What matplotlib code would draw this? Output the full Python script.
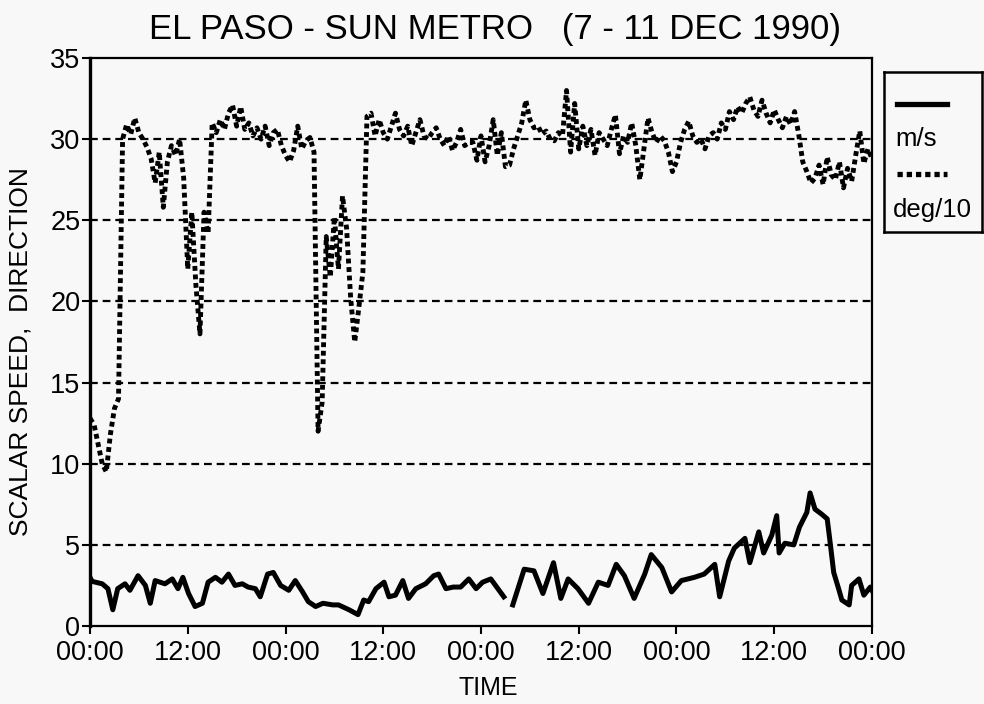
import numpy as np
import matplotlib
matplotlib.use("Agg")
import matplotlib.pyplot as plt

# wind direction (deg/10), half-hourly from 00:00 7 Dec
direction = [
    12.8, 12.4, 11.2, 10.0, 9.5, 11.8, 13.4, 14.0, 30.0, 30.9,
    30.3, 31.3, 30.4, 30.0, 29.5, 28.8, 27.3, 29.2, 25.8, 28.6,
    29.6, 29.0, 30.0, 27.6, 22.0, 25.5, 21.0, 18.0, 25.5, 24.2,
    31.0, 30.4, 31.2, 30.6, 31.6, 32.1, 30.8, 32.0, 30.6, 31.0,
    30.2, 30.7, 30.0, 30.8, 29.6, 30.4, 30.6, 29.6, 29.0, 28.6,
    29.3, 30.8, 29.4, 29.9, 30.1, 29.2, 12.0, 13.8, 24.0, 21.5,
    25.2, 22.0, 26.5, 24.5, 20.2, 17.5, 19.6, 21.8, 31.4, 31.6,
    30.2, 31.2, 30.4, 30.0, 30.8, 31.6, 30.6, 30.2, 30.8, 29.6,
    30.4, 31.2, 30.2, 30.0, 30.4, 30.7, 30.0, 29.6, 30.2, 29.3,
    29.8, 30.6, 29.6, 29.8, 29.8, 28.7, 30.2, 28.6, 29.6, 31.2,
    29.0, 30.4, 28.3, 28.4, 29.4, 30.2, 31.0, 32.4, 31.2, 30.7,
    30.8, 30.3, 30.5, 30.0, 29.9, 30.4, 30.2, 33.0, 29.2, 32.2,
    29.4, 30.8, 29.6, 30.6, 29.0, 30.4, 30.0, 29.6, 30.6, 31.5,
    29.1, 30.2, 29.8, 31.0, 29.6, 27.5, 29.4, 31.3, 30.4, 29.8,
    30.2, 29.9, 29.2, 28.0, 28.6, 29.8, 30.6, 31.1, 30.2, 29.8,
    30.0, 29.4, 30.2, 30.4, 30.0, 31.0, 30.6, 31.7, 31.2, 32.0,
    31.6, 32.2, 32.6, 31.8, 31.4, 32.4, 31.6, 31.0, 31.8, 31.2,
    30.7, 31.4, 30.9, 31.7, 30.3, 28.6, 28.0, 27.3, 27.6, 28.4,
    27.2, 28.9, 27.8, 27.5, 28.6, 27.0, 28.2, 27.4, 29.0, 30.5,
    28.5, 29.4, 28.8,
]
dir_hours = np.arange(len(direction)) * 0.5

# scalar wind speed (m/s); nan marks the gap in the record
speed_hours = [
    0.0, 0.25, 1.5, 2.2, 2.8, 3.4, 4.3, 4.9, 5.9, 6.8, 7.4, 8.0, 9.2, 10.1, 10.8, 11.4, 12.1, 12.9, 13.8, 14.5,
    15.4, 16.2, 17.0, 17.8, 18.7, 19.4, 20.3, 20.9, 21.8, 22.5, 23.4, 24.4, 25.2, 26.1, 26.8, 27.7, 28.6, 29.8, 30.5, 31.8,
    32.9, 33.6, 34.2, 35.1, 36.1, 36.7, 37.5, 38.4, 39.1, 40.0, 41.2, 42.2, 42.8, 43.7, 44.6, 45.5, 46.5, 47.4, 48.2, 49.2,
    50.8, 51.4, 51.9, 53.3, 54.5, 55.6, 56.9, 57.8, 58.7, 59.9, 61.2, 62.4, 63.6, 64.6, 65.6, 66.8, 68.1, 68.9, 70.2, 71.4,
    72.6, 74.2, 75.4, 76.7, 77.3, 78.4, 79.1, 80.4, 81.0, 82.1, 82.7, 83.7, 84.3, 84.6, 85.3, 86.4, 87.1, 88.0, 88.4, 89.0,
    89.8, 90.5, 90.8, 91.3, 91.9, 92.3, 93.2, 93.5, 94.4, 95.0, 95.8, 96.0,
]
speed = [
    3.0, 2.75, 2.6, 2.3, 1.0, 2.3, 2.6, 2.2, 3.1, 2.5, 1.4, 2.8, 2.6, 2.9, 2.3, 3.0, 2.0, 1.2, 1.4, 2.7,
    3.0, 2.7, 3.2, 2.5, 2.6, 2.4, 2.3, 1.8, 3.2, 3.3, 2.5, 2.2, 2.8, 2.1, 1.5, 1.2, 1.4, 1.3, 1.3, 1.0,
    0.7, 1.6, 1.5, 2.3, 2.7, 1.8, 1.9, 2.8, 1.7, 2.3, 2.6, 3.1, 3.2, 2.3, 2.4, 2.4, 2.9, 2.3, 2.7, 2.9,
    1.8, np.nan, 1.3, 3.5, 3.4, 2.0, 3.9, 1.7, 2.9, 2.3, 1.4, 2.7, 2.5, 3.8, 3.1, 1.7, 3.2, 4.4, 3.6, 2.1,
    2.8, 3.0, 3.2, 3.8, 1.8, 4.0, 4.8, 5.4, 3.9, 5.8, 4.5, 5.6, 6.8, 4.5, 5.1, 5.0, 6.1, 7.0, 8.2, 7.2,
    6.9, 6.6, 5.4, 3.3, 2.3, 1.6, 1.3, 2.5, 2.9, 1.9, 2.4, 2.2,
]

tick_hours = [0, 12, 24, 36, 48, 60, 72, 84, 96]
tick_labels = ['00:00', '12:00', '00:00', '12:00', '00:00', '12:00', '00:00', '12:00', '00:00']
grid_levels = [5, 10, 15, 20, 25, 30]

plt.rcParams['font.family'] = ['Liberation Sans', 'DejaVu Sans']
bg = '#f8f8f8'

fig = plt.figure(figsize=(9.84, 7.04), dpi=100, facecolor=bg)
ax = fig.add_axes([90 / 984, 1 - 626 / 704, 782 / 984, 568 / 704], facecolor=bg)

for g in grid_levels:
    ax.axhline(g, color='black', lw=1.6, ls=(0, (3.5, 2.2)), zorder=1)

ax.plot(dir_hours, direction, color='black', lw=3.5, ls=(0, (1, 0.75)), zorder=2)
ax.plot(speed_hours, speed, color='black', lw=3.6, solid_joinstyle='round', zorder=3)

ax.set_xlim(0, 96)
ax.set_ylim(0, 35)
ax.set_xticks(tick_hours)
ax.set_xticklabels(tick_labels)
ax.set_yticks(range(0, 36, 5))
ax.tick_params(axis='both', labelsize=19.5, colors='black', width=1.5)
ax.tick_params(axis='x', length=6, pad=4)
ax.tick_params(axis='y', length=6, pad=1)
for side in ['top', 'right', 'bottom']:
    ax.spines[side].set_linewidth(1.6)
ax.spines['left'].set_linewidth(2.4)

fig.text(495 / 984, 1 - 29 / 704, 'EL PASO - SUN METRO   (7 - 11 DEC 1990)',
         ha='center', va='center', fontsize=25)
fig.text(488 / 984, 1 - 688 / 704, 'TIME', ha='center', va='center', fontsize=18)
fig.text(21 / 984, 1 - 352 / 704, 'SCALAR SPEED,  DIRECTION', ha='center', va='center',
         rotation=90, fontsize=19)

# legend box at right
lax = fig.add_axes([884 / 984, 1 - 232 / 704, 98 / 984, 160 / 704], facecolor=bg)
lax.set_xlim(0, 1)
lax.set_ylim(0, 1)
lax.set_xticks([])
lax.set_yticks([])
for s in lax.spines.values():
    s.set_linewidth(1.8)
lax.plot([0.13, 0.64], [0.80, 0.80], color='black', lw=3.8)
lax.text(0.12, 0.58, 'm/s', ha='left', va='center', fontsize=18.5)
lax.plot([0.13, 0.64], [0.36, 0.36], color='black', lw=3.8, ls=(0, (1, 0.75)))
lax.text(0.09, 0.14, 'deg/10', ha='left', va='center', fontsize=18.5)

fig.savefig('out.png', dpi=100, facecolor=bg)
